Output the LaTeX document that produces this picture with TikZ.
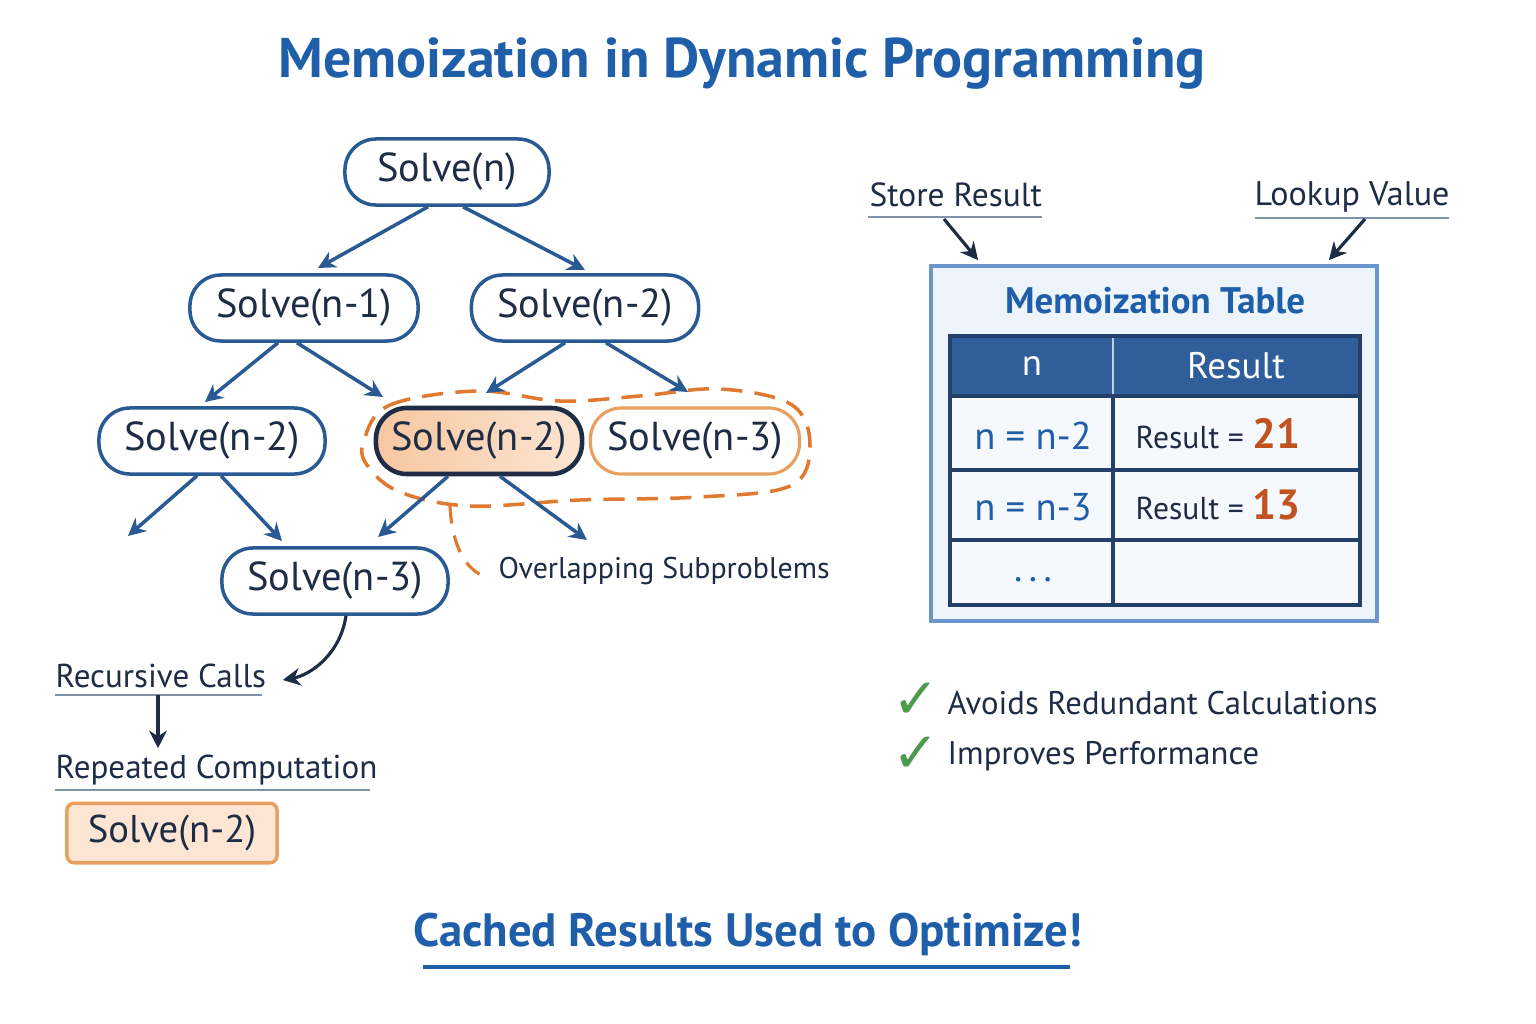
\documentclass[tikz,border=0pt]{standalone}
\usepackage{fontspec}
\setmainfont{PT Sans}
\newfontfamily\symfont{DejaVu Sans}
\usetikzlibrary{arrows.meta,calc}
\definecolor{titleblue}{HTML}{1F5FAA}
\definecolor{nodeblue}{HTML}{2A5A94}
\definecolor{navy}{HTML}{1E2D45}
\definecolor{peach}{HTML}{F7C7A0}
\definecolor{peachlight}{HTML}{FCE5D2}
\definecolor{orangeline}{HTML}{E07A30}
\definecolor{orangeborder}{HTML}{E8A060}
\definecolor{boxfill}{HTML}{EEF4FB}
\definecolor{boxline}{HTML}{6A96CC}
\definecolor{headfill}{HTML}{2F5E9A}
\definecolor{gridline}{HTML}{22406A}
\definecolor{numorange}{HTML}{C0531F}
\definecolor{checkgreen}{HTML}{4E9A4E}
\definecolor{ulgray}{HTML}{7F93AD}
\begin{document}
\begin{tikzpicture}[x=0.01cm,y=-0.01cm,
  solvebox/.style={draw=nodeblue,line width=1pt,fill=white,rectangle,rounded corners=0.31cm,
    minimum height=0.66cm,text=navy,font=\fontsize{11.5}{13}\selectfont,inner xsep=0pt},
  arr/.style={draw=nodeblue,line width=1pt,-{Stealth[length=5pt,width=5pt]}},
  darr/.style={draw=navy,line width=0.9pt,-{Stealth[length=5pt,width=5pt]}},
  lbl/.style={text=navy,font=\fontsize{9.4}{11}\selectfont,inner sep=0pt},
  ul/.style={draw=ulgray,line width=0.7pt},
  cell/.style={inner sep=0pt},
  checkmk/.style={text=checkgreen,font=\symfont\fontsize{16}{17}\selectfont,inner sep=0pt,text height=0.9em,text depth=0pt},
]
\useasboundingbox (0,0) rectangle (1536,1024);
\fill[white] (0,0) rectangle (1536,1024);

% title
\node[text=titleblue,font=\fontsize{15.9}{18}\selectfont\bfseries] (title) at (742,64) {Memoization in Dynamic Programming};

% dashed overlap blob
\draw[orangeline,dashed,line width=1pt,dash pattern=on 6pt off 3.5pt]
  plot[smooth cycle,tension=0.6] coordinates {(364,440) (390,405) (478,391) (560,401) (640,396) (720,389) (792,405) (810,447) (790,486) (700,497) (580,500) (470,506) (400,492) (367,465)};

% tree nodes
\node[solvebox,minimum width=2.04cm] (sn) at (447,172) {Solve(n)};
\node[solvebox,minimum width=2.28cm] (sn1) at (304,308) {Solve(n-1)};
\node[solvebox,minimum width=2.27cm] (sn2r) at (585,308) {Solve(n-2)};
\node[solvebox,minimum width=2.26cm] (l3a) at (212,441) {Solve(n-2)};
\node[solvebox,minimum width=2.06cm,draw=navy,line width=1.3pt,fill=none,left color=peach,right color=peachlight] (hl) at (479,441) {Solve(n-2)};
\node[solvebox,minimum width=2.09cm,draw=orangeborder,line width=0.9pt] (r3) at (695,441) {Solve(n-3)};
\node[solvebox,minimum width=2.26cm] (b3) at (335,581) {Solve(n-3)};

% arrow tips (free ends)
\coordinate (t1) at (318,268);
\coordinate (t2) at (585,270);
\coordinate (t3) at (205,402);
\coordinate (t4) at (383,397);
\coordinate (t5) at (486,393);
\coordinate (t6) at (688,392);
\coordinate (t7) at (128,536);
\coordinate (t8) at (282,541);
\coordinate (t9) at (378,537);
\coordinate (t10) at (587,540);

\draw[arr] ($(sn.south)+(-19,0)$) -- (t1);
\draw[arr] ($(sn.south)+(16,0)$) -- (t2);
\draw[arr] ($(sn1.south)+(-26,0)$) -- (t3);
\draw[arr] ($(sn1.south)+(-7,0)$) -- (t4);
\draw[arr] ($(sn2r.south)+(-20,0)$) -- (t5);
\draw[arr] ($(sn2r.south)+(21,0)$) -- (t6);
\draw[arr] ($(l3a.south)+(-15,0)$) -- (t7);
\draw[arr] ($(l3a.south)+(9,0)$) -- (t8);
\draw[arr] ($(hl.south)+(-31,0)$) -- (t9);
\draw[arr] ($(hl.south)+(21,0)$) -- (t10);

% overlapping label
\node[text=navy,font=\fontsize{8.5}{10}\selectfont,anchor=west,inner sep=0pt] (ovl) at (498,571) {Overlapping Subproblems};
\draw[orangeline,dashed,line width=0.9pt,dash pattern=on 5pt off 3.5pt] (450,506) .. controls (452,545) and (465,570) .. ($(ovl.west)+(-12,6)$);

% recursive calls
\node[lbl,anchor=west] (rc) at (55,676) {Recursive Calls};
\draw[ul] (55,695) -- (262,695);
\draw[darr] ($(b3.south)+(11,0)$) .. controls (340,655) and (310,675) .. ($(rc.east)+(16,4)$);
\node[lbl,anchor=west] (rep) at (55,770) {Repeated Computation};
\draw[ul] (55,790) -- (370,790);
\coordinate (rcb) at (158,695);
\draw[darr] (rcb) -- ($(rep.north west)+(103,-6)$);
\node[draw=orangeborder,line width=1pt,fill=peachlight,rounded corners=2pt,minimum width=2.1cm,minimum height=0.55cm,text=navy,font=\fontsize{11}{13}\selectfont] (rbox) at (172,833) {Solve(n-2)};

% right side: table
\node[draw=boxline,line width=1pt,fill=boxfill,minimum width=4.46cm,minimum height=3.55cm,inner sep=0pt] (tbox) at (1154,443.5) {};
\node[text=titleblue,font=\fontsize{10.5}{12}\selectfont\bfseries] (ttitle) at (1155,301) {Memoization Table};
\fill[headfill] (950,336) rectangle (1360,396);
\fill[boxfill!60!white] (950,396) rectangle (1360,605);
\draw[gridline,line width=1.2pt] (950,336) rectangle (1360,605);
\draw[gridline,line width=1pt] (950,396) -- (1360,396);
\draw[gridline,line width=1pt] (950,470) -- (1360,470);
\draw[gridline,line width=1pt] (950,540) -- (1360,540);
\draw[gridline,line width=1pt] (1113,396) -- (1113,605);
\draw[white!70!headfill,line width=0.8pt] (1113,338) -- (1113,394);
\node[cell,text=white,font=\fontsize{10.5}{12}\selectfont] (hn) at (1032,366) {n};
\node[cell,text=white,font=\fontsize{10.5}{12}\selectfont] (hr) at (1236,366) {Result};
\node[cell,text=titleblue,font=\fontsize{11}{13}\selectfont] (c11) at (1033,436) {n = n-2};
\node[cell,anchor=base west,text=navy,font=\fontsize{9}{11}\selectfont] (c12) at (1135,448) {Result = \textcolor{numorange}{\fontsize{12}{14}\selectfont\bfseries 21}};
\node[cell,text=titleblue,font=\fontsize{11}{13}\selectfont] (c21) at (1033,507) {n = n-3};
\node[cell,anchor=base west,text=navy,font=\fontsize{9}{11}\selectfont] (c22) at (1135,519) {Result = \textcolor{numorange}{\fontsize{12}{14}\selectfont\bfseries 13}};
\node[cell,text=titleblue,font=\fontsize{11}{13}\selectfont] (c31) at (1033,580) {.\,.\,.};

% store / lookup
\node[lbl,anchor=west,font=\fontsize{9.5}{11}\selectfont] (store) at (869,195) {Store Result};
\draw[ul] (868,217) -- (1042,217);
\node[lbl,anchor=west,font=\fontsize{9.7}{11}\selectfont] (look) at (1254,197) {Lookup Value};
\draw[ul] (1255,218) -- (1449,218);
\coordinate (sa) at (944,219);
\coordinate (la) at (1365,219);
\draw[darr] (sa) -- ($(tbox.north west)+(49,-4)$);
\draw[darr] (la) -- ($(tbox.north east)+(-50,-4)$);

% benefits
\node[checkmk] (ck1) at (916,703) {✓};
\node[checkmk] (ck2) at (916,757) {✓};
\node[lbl,anchor=west,font=\fontsize{9.3}{11}\selectfont] (b1) at (947,703) {Avoids Redundant Calculations};
\node[lbl,anchor=west,font=\fontsize{9.3}{11}\selectfont] (b2) at (947,756) {Improves Performance};

% bottom
\node[text=titleblue,font=\fontsize{13.3}{16}\selectfont\bfseries] (bottom) at (748,934) {Cached Results Used to Optimize!};
\draw[titleblue,line width=1.2pt] (423,967) -- (1070,967);
\end{tikzpicture}
\end{document}
